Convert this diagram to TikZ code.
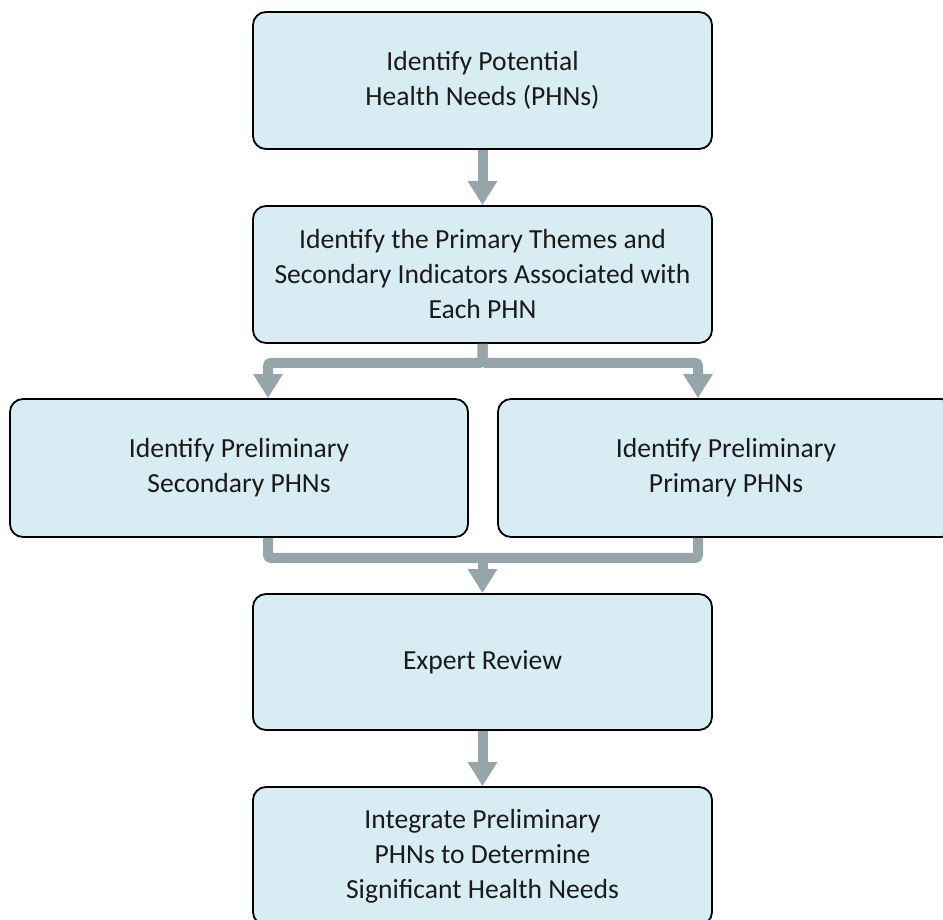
\documentclass[tikz,border=0pt]{standalone}
\usepackage{fontspec}
\setmainfont{Carlito}
\usetikzlibrary{arrows.meta}
\definecolor{boxfill}{RGB}{216,236,243}
\definecolor{conncol}{RGB}{149,165,170}
\definecolor{txt}{RGB}{26,26,26}
\begin{document}
\begin{tikzpicture}[x=1pt,y=-1pt,
  box/.style={draw=black, line width=1.8pt, fill=boxfill, rounded corners=13pt,
    minimum width=459pt, minimum height=137pt, inner sep=0pt, align=center,
    text=txt, font=\fontsize{27.6pt}{35pt}\selectfont},
  link/.style={draw=conncol, line width=10pt, rounded corners=3pt},
  conn/.style={link, -{Triangle[width=28pt,length=24pt]}}
]
\useasboundingbox (0,0) rectangle (943,919);
\clip (0,0) rectangle (943,919);
\node[box] (b1) at (482.5,80.5) {Identify Potential\\Health Needs (PHNs)};
\node[box] (b2) at (482.5,274.5) {Identify the Primary Themes and\\Secondary Indicators Associated with\\Each PHN};
\node[box, minimum width=458pt, minimum height=138pt] (b3) at (239,468) {Identify Preliminary\\Secondary PHNs};
\node[box, minimum width=456pt, minimum height=138pt] (b4) at (726,468) {Identify Preliminary\\Primary PHNs};
\node[box, minimum height=136pt] (b5) at (482.5,662) {Expert Review};
\node[box, minimum height=138pt] (b6) at (482.5,856) {Integrate Preliminary\\PHNs to Determine\\Significant Health Needs};
% connectors
\draw[conn] (b1.south) -- (b2.north);
\draw[conn] (b2.south) -- ++(0,19) -| ([xshift=29pt]b3.north);
\draw[conn] (b2.south) -- ++(0,19) -| ([xshift=-28pt]b4.north);
\draw[link] ([xshift=29pt]b3.south) -- ++(0,20) coordinate (mL) -| ([xshift=-28pt]b4.south);
\draw[conn] (mL -| b5.north) -- (b5.north);
\draw[conn] (b5.south) -- (b6.north);
\end{tikzpicture}
\end{document}
